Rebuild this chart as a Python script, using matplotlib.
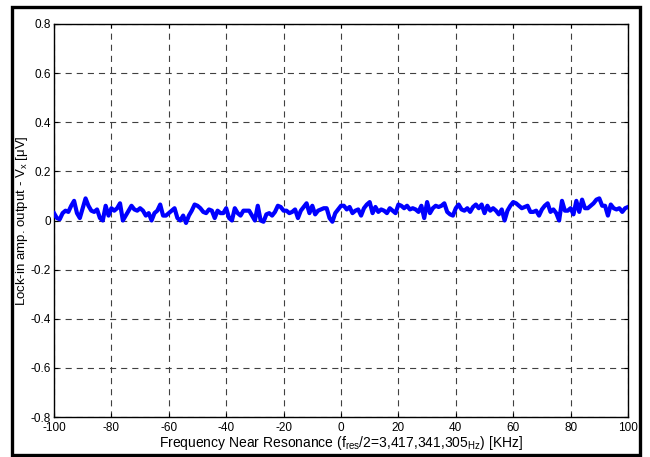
import matplotlib
matplotlib.use("Agg")
import matplotlib.pyplot as plt
from matplotlib.patches import Rectangle
import numpy as np

plt.rcParams['font.family'] = ['Liberation Sans', 'DejaVu Sans']
plt.rcParams['mathtext.fontset'] = 'custom'
plt.rcParams['mathtext.rm'] = 'Liberation Sans'
plt.rcParams['mathtext.it'] = 'Liberation Sans:italic'

# Frequency offset from resonance [KHz], 1 KHz steps
freq_start = -100
freq_stop = 100
# Lock-in amplifier output Vx [uV]
vx = [
    0.03, 0.01, 0.005, 0.03, 0.04, 0.035, 0.06, 0.08, 0.03, 0.01,
    0.05, 0.09, 0.06, 0.04, 0.035, 0.045, 0.01, 0.0, 0.06, 0.02,
    0.05, 0.04, 0.05, 0.07, 0.0, 0.02, 0.04, 0.06, 0.045, 0.04,
    0.05, 0.04, 0.02, 0.03, 0.0, 0.03, 0.04, 0.065, 0.02, 0.02,
    0.03, 0.04, 0.05, 0.01, 0.0, 0.02, -0.01, 0.02, 0.04, 0.065,
    0.06, 0.05, 0.035, 0.03, 0.045, 0.04, 0.01, 0.04, 0.03, 0.03,
    0.05, 0.01, 0.0, 0.05, 0.03, 0.02, 0.04,
    0.04, 0.04, 0.02, 0.0, 0.06, 0.0, -0.005, 0.025, 0.03, 0.02,
    0.035, 0.06, 0.055, 0.04, 0.04, 0.03, 0.035, 0.045, 0.01, 0.04,
    0.055, 0.07, 0.03, 0.06, 0.025, 0.04, 0.045, 0.05, 0.05, 0.01,
    -0.005, 0.03, 0.045, 0.06, 0.06, 0.045, 0.055, 0.03, 0.04, 0.045,
    0.02, 0.05, 0.065, 0.075, 0.03, 0.055, 0.035, 0.045, 0.04, 0.03,
    0.05, 0.04, 0.03, 0.065, 0.06, 0.05, 0.06, 0.045, 0.05, 0.045,
    0.035, 0.06, 0.01, 0.075, 0.03, 0.05,
    0.06, 0.055, 0.06, 0.07, 0.035, 0.025, 0.02, 0.05, 0.065, 0.045,
    0.04, 0.05, 0.035, 0.055, 0.065, 0.05, 0.065, 0.03, 0.06, 0.04,
    0.05, 0.04, 0.025, 0.045, 0.0, 0.04, 0.06, 0.075, 0.07, 0.06,
    0.05, 0.055, 0.06, 0.035, 0.035, 0.04, 0.02, 0.045, 0.06, 0.07,
    0.035, 0.045, 0.03, 0.0, 0.08, 0.04, 0.04, 0.05, 0.025, 0.08,
    0.035, 0.085, 0.05, 0.05, 0.06, 0.07, 0.085, 0.09, 0.06, 0.06,
    0.02, 0.065, 0.05, 0.045, 0.05, 0.035, 0.05, 0.055,
]
freq = np.linspace(freq_start, freq_stop, len(vx))

x_ticks = [-100, -80, -60, -40, -20, 0, 20, 40, 60, 80, 100]
y_ticks = [-0.8, -0.6, -0.4, -0.2, 0, 0.2, 0.4, 0.6, 0.8]
y_tick_labels = ['-0.8', '-0.6', '-0.4', '-0.2', '0', '0.2', '0.4', '0.6', '0.8']

W, H = 650, 457
fig = plt.figure(figsize=(W / 100, H / 100), dpi=100)
fig.patch.set_facecolor('white')

# outer frame
fig.patches.append(Rectangle((12 / W, 2 / H), (640 - 12) / W, (455 - 7) / H,
                             transform=fig.transFigure, fill=False,
                             edgecolor='black', linewidth=2.4, zorder=0))

ax = fig.add_axes([54 / W, 1 - 417 / H, (628 - 54) / W, (417 - 24) / H])
ax.plot(freq, vx, color='#0000ff', linewidth=3.0, solid_joinstyle='round', zorder=3)

ax.set_xlim(-100, 100)
ax.set_ylim(-0.8, 0.8)
ax.set_xticks(x_ticks)
ax.set_xticklabels([str(t) for t in x_ticks])
ax.set_yticks(y_ticks)
ax.set_yticklabels(y_tick_labels)

ax.grid(True, color='0.25', linestyle=(0, (5.5, 4.5)), linewidth=0.8)
ax.set_axisbelow(True)
ax.tick_params(direction='in', length=3, width=0.8, labelsize=8.5,
               top=True, right=True, pad=2)
ax.tick_params(axis='x', pad=3.5)
for s in ax.spines.values():
    s.set_linewidth(1.0)
    s.set_color('black')

ax.set_xlabel(r'Frequency Near Resonance (f$_{\rm res}$/2=3,417,341,305$_{\rm Hz}$) [KHz]',
              fontsize=10, labelpad=0)
ax.set_ylabel(r'Lock-in amp. output - V$_{\rm x}$ [μV]', fontsize=9.5, va='center')
ax.yaxis.set_label_coords((22 - 54) / 574, 0.5)

fig.savefig('out.png', dpi=100, facecolor='white')
